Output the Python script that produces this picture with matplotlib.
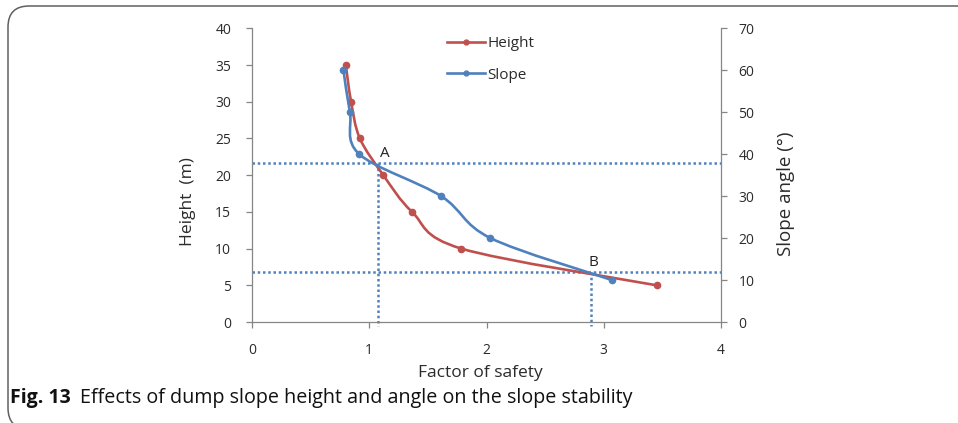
import matplotlib
matplotlib.use("Agg")
import matplotlib.pyplot as plt
from matplotlib.path import Path
from matplotlib.patches import PathPatch, FancyBboxPatch
from matplotlib.lines import Line2D
from matplotlib import font_manager

# ---------------- data ----------------
height_fos = [0.80, 0.845, 0.92, 1.12, 1.365, 1.785, 3.45]
height_m = [35, 30, 25, 20, 15, 10, 5]

slope_fos = [0.78, 0.835, 0.915, 1.613, 2.034, 3.07]
slope_deg = [60, 50, 40, 30, 20, 10]

point_a = (1.077, 21.6)
point_b = (2.889, 6.8)

x_ticks = [0, 1, 2, 3, 4]
left_ticks = [0, 5, 10, 15, 20, 25, 30, 35, 40]
right_ticks = [0, 10, 20, 30, 40, 50, 60, 70]

RED = "#C0504D"
BLUE = "#4F81BD"
SPINE = "#868686"
TXT = "#2b2b2b"

names = {f.name for f in font_manager.fontManager.ttflist}
FONT = "Open Sans" if "Open Sans" in names else "DejaVu Sans"
plt.rcParams["font.family"] = [FONT, "DejaVu Sans"]


def smooth_path(xs, ys):
    n = len(xs)
    verts = [(xs[0], ys[0])]
    codes = [Path.MOVETO]
    for i in range(n - 1):
        x0, y0 = (xs[i - 1], ys[i - 1]) if i > 0 else (xs[i], ys[i])
        x1, y1 = xs[i], ys[i]
        x2, y2 = xs[i + 1], ys[i + 1]
        x3, y3 = (xs[i + 2], ys[i + 2]) if i + 2 < n else (x2, y2)
        c1 = (x1 + (x2 - x0) / 6, y1 + (y2 - y0) / 6)
        c2 = (x2 - (x3 - x1) / 6, y2 - (y3 - y1) / 6)
        verts += [c1, c2, (x2, y2)]
        codes += [Path.CURVE4] * 3
    return Path(verts, codes)


fig = plt.figure(figsize=(9.58, 4.23), dpi=100)
ax = fig.add_axes([252 / 958, 1 - 322 / 423, 469 / 958, (322 - 28.3) / 423])
ax2 = ax.twinx()

ax.set_xlim(0, 4)
ax.set_ylim(0, 40)
ax2.set_ylim(0, 70)

# dotted guide lines
dot = dict(color=BLUE, lw=1.8, linestyle=(0, (1, 1.1)), clip_on=False, zorder=1)
for px, py in (point_a, point_b):
    ax.plot([0, 4], [py, py], **dot)
    ax.plot([px, px], [py, -0.5], **dot)

# smoothed series
ax.add_patch(PathPatch(smooth_path(height_fos, height_m), fill=False,
                       edgecolor=RED, lw=1.9, zorder=3))
ax.plot(height_fos, height_m, "o", color=RED, ms=4.5, zorder=4)
ax2.add_patch(PathPatch(smooth_path(slope_fos, slope_deg), fill=False,
                        edgecolor=BLUE, lw=1.9, zorder=3))
ax2.plot(slope_fos, slope_deg, "o", color=BLUE, ms=4.5, zorder=4)

ax.text(1.09, 23.0, "A", fontsize=11, color="#222222", ha="left", va="center")
ax.text(2.87, 8.1, "B", fontsize=11, color="#222222", ha="left", va="center")

# axes styling
for a in (ax, ax2):
    for s in a.spines.values():
        s.set_color(SPINE)
        s.set_linewidth(0.9)
    a.spines["top"].set_visible(False)
    a.tick_params(colors=SPINE, labelcolor=TXT, labelsize=10, width=0.9, length=4)
ax.spines["right"].set_visible(False)
ax2.spines["left"].set_visible(False)
ax2.spines["bottom"].set_visible(False)

ax.set_xticks(x_ticks)
ax.set_yticks(left_ticks)
ax2.set_yticks(right_ticks)
ax.tick_params(axis="y", pad=11)
ax.tick_params(axis="x", pad=11)
ax2.tick_params(axis="y", pad=8.5)

ax.set_xlabel("Factor of safety", fontsize=12.5, color=TXT)
ax.xaxis.set_label_coords(0.488, -0.145)
ax.set_ylabel("Height  (m)", fontsize=12.5, color=TXT)
ax.yaxis.set_label_coords(-0.12, 0.41)
ax2.set_ylabel("Slope angle (°)", fontsize=13.5, color=TXT)
ax2.yaxis.set_label_coords(1.12, 0.435)

# legend
handles = [Line2D([], [], color=RED, lw=1.9, marker="o", ms=3.5),
           Line2D([], [], color=BLUE, lw=1.9, marker="o", ms=3.5)]
fig.legend(handles, ["Height", "Slope"], loc="upper left",
           bbox_to_anchor=(447 / 958, 1 - 36 / 423), frameon=False,
           borderpad=0, borderaxespad=0, handlelength=2.5,
           handletextpad=0.12, labelspacing=1.1, fontsize=11,
           labelcolor=TXT)

# caption
fig.text(10 / 958, 1 - 398 / 423, "Fig. 13", fontsize=14, fontweight="bold",
         color="#111111", va="center")
fig.text(80 / 958, 1 - 398 / 423,
         "Effects of dump slope height and angle on the slope stability",
         fontsize=14.2, color="#111111", va="center")

# frame
frame = FancyBboxPatch((8 / 958, -6 / 423), 1.2, 1.0,
                       boxstyle="round,pad=0,rounding_size=0.022",
                       transform=fig.transFigure, fill=False,
                       edgecolor="#606060", lw=1.1, mutation_aspect=958 / 423)
fig.patches.append(frame)

fig.savefig("out.png", dpi=100)
